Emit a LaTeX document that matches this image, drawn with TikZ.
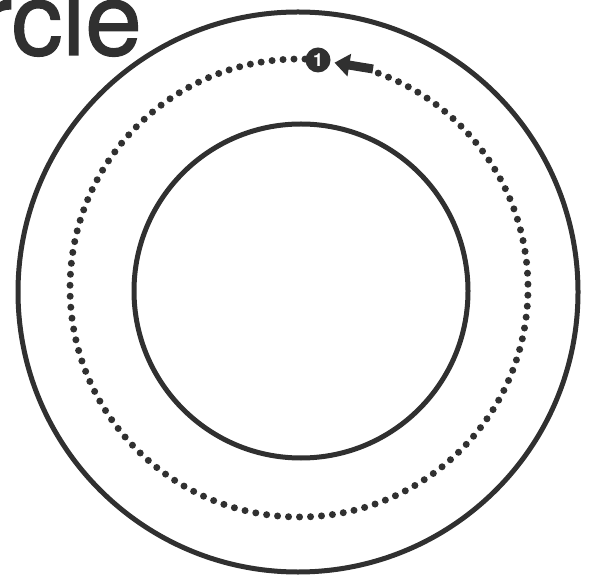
\documentclass[tikz,border=0pt]{standalone}
\usepackage{fontspec}
\setmainfont{TeX Gyre Heros}
\newfontfamily\wordfont[FakeBold=1.2]{TeX Gyre Heros}
\usetikzlibrary{arrows.meta,positioning}
\definecolor{inkgrey}{rgb}{0.19, 0.19, 0.19}
\newcommand\RingR{229}
\tikzset{
  ring/.style={
    draw = inkgrey,
    line width = 5pt
  },
}
\tikzset{
  dotring/.style={
    draw = inkgrey,
    line width = 7pt,
    line cap = round,
    dash pattern = on 0pt off 11pt
  },
}
\tikzset{
  badge/.style={
    shape = circle,
    fill = inkgrey,
    inner sep = 0pt,
    minimum size = 25pt,
    text = white,
    font = \fontsize{18}{18}\selectfont\bfseries
  },
  pointer/.style={
    draw = inkgrey,
    line width = 9pt,
    -{Triangle[length=15pt,width=22pt]},
    shorten > = 4pt
  },
  title/.style={
    anchor = base west,
    inner sep = 0pt,
    outer sep = 0pt,
    text = inkgrey,
    font = \wordfont\fontsize{102}{102}\selectfont
  }
}

\begin{document}
\begin{tikzpicture}[x=1pt,y=1pt]
\useasboundingbox (0,0) rectangle (596,581);
\clip (0,0) rectangle (596,581);

       \node[title] (word) at (-22,526) {rcle};

       \draw[ring] (298,289) circle (280);
       \draw[ring] (301,290) circle (167);

       \coordinate (ctr) at (299,293);
       \draw[dotring] ([shift={(88.5:\RingR)}]ctr) arc[start angle=88.5, end angle=430, radius=\RingR];

       \node[badge] (one) at (318,521) {1};
       \coordinate (tail) at (373,512);
       \draw[pointer] (tail) -- (one);

\end{tikzpicture}
\end{document}
